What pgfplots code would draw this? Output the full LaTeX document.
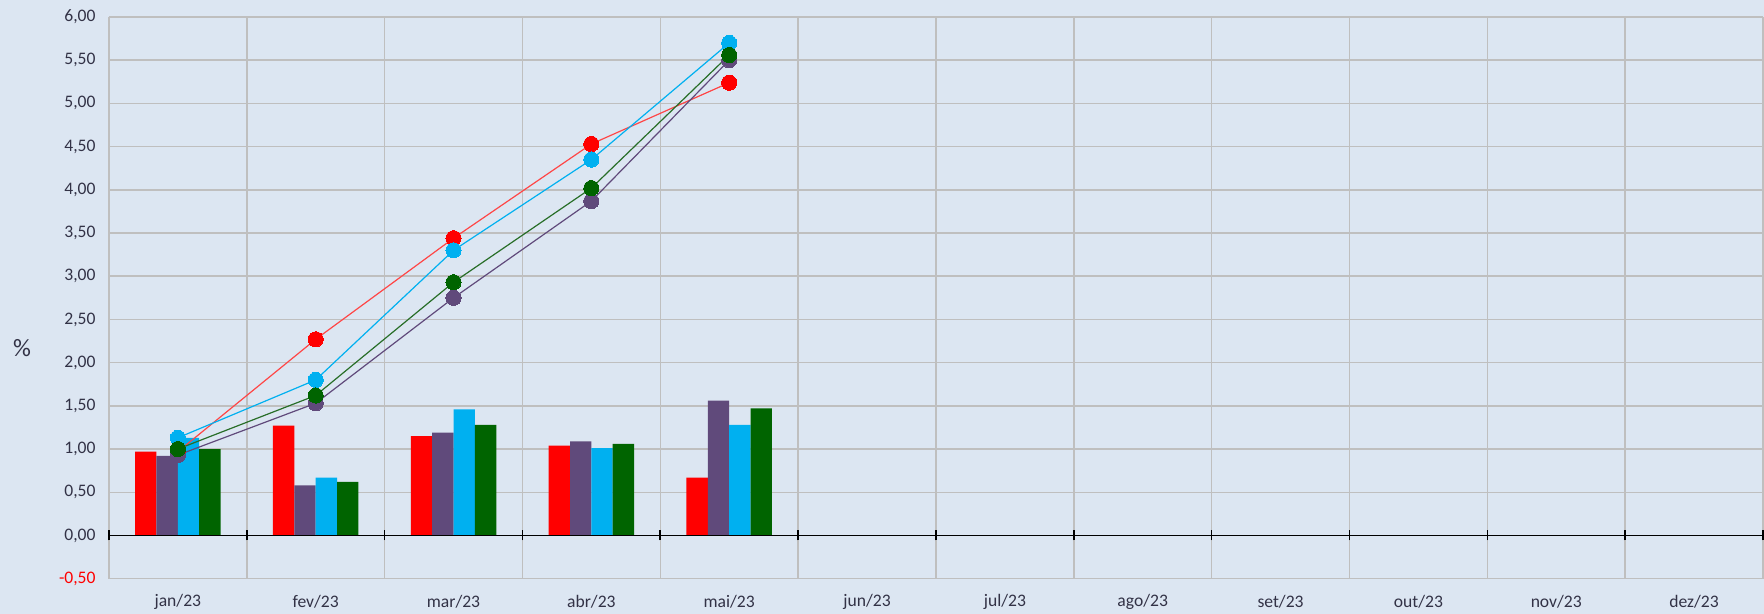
\documentclass[border=0pt]{standalone}
\usepackage{pgfplots}
\pgfplotsset{compat=1.18}
\usepackage{fontspec}
\setmainfont{Carlito}
\definecolor{bgc}{RGB}{220,230,242}
\definecolor{gridc}{RGB}{191,191,191}
\definecolor{cred}{RGB}{255,0,0}
\definecolor{credl}{RGB}{255,70,70}
\definecolor{cpur}{RGB}{96,74,123}
\definecolor{cblue}{RGB}{0,176,240}
\definecolor{cgreen}{RGB}{0,100,0}
\definecolor{cgreenl}{RGB}{40,110,40}
\definecolor{labc}{RGB}{50,50,70}
\begin{document}
\begin{tikzpicture}
\fill[bgc] (-54.5pt,-17.5pt) rectangle (828pt,289.5pt);
\begin{axis}[at={(0,0)}, anchor=south west, scale only axis,
  width=827.5pt, height=281pt,
  xmin=-0.5, xmax=11.5, ymin=-0.5, ymax=6,
  axis line style={draw=none},
  major tick length=0pt, minor tick length=0pt,
  xtick={0,...,11},
  xticklabels={jan/23,fev/23,mar/23,abr/23,mai/23,jun/23,jul/23,ago/23,set/23,out/23,nov/23,dez/23},
  minor xtick={-0.5,0.5,...,11.5},
  xminorgrids=true, xmajorgrids=false, ymajorgrids=true,
  ytick={-0.5,0,0.5,1,1.5,2,2.5,3,3.5,4,4.5,5,5.5,6},
  yticklabels={\textcolor{cred}{-0,50},{0,00},{0,50},{1,00},{1,50},{2,00},{2,50},{3,00},{3,50},{4,00},{4,50},{5,00},{5,50},{6,00}},
  grid style={gridc, line width=0.75pt},
  minor grid style={gridc, line width=0.75pt},
  tick label style={font=\fontsize{8.8}{10}\selectfont, text=labc},
  yticklabel style={anchor=east, inner sep=0pt, xshift=-6.5pt},
  xticklabel style={anchor=center, inner sep=0pt, yshift=-11.5pt},
  ylabel={\%},
  every axis y label/.style={at={(rel axis cs:0,0.41)}, anchor=center, xshift=-43.5pt, font=\fontsize{12.5}{14}\selectfont, text=labc},
  clip=false,
]
% monthly bars
\addplot[ybar, bar width=0.155, bar shift=-0.2325, fill=cred, draw=none]
  coordinates {(0,0.97)(1,1.27)(2,1.15)(3,1.04)(4,0.67)};
\addplot[ybar, bar width=0.155, bar shift=-0.0775, fill=cpur, draw=none]
  coordinates {(0,0.92)(1,0.58)(2,1.19)(3,1.09)(4,1.56)};
\addplot[ybar, bar width=0.155, bar shift=0.0775, fill=cblue, draw=none]
  coordinates {(0,1.13)(1,0.67)(2,1.46)(3,1.01)(4,1.28)};
\addplot[ybar, bar width=0.155, bar shift=0.2325, fill=cgreen, draw=none]
  coordinates {(0,1.00)(1,0.62)(2,1.28)(3,1.06)(4,1.47)};
% zero line with tick marks
\draw[black, line width=0.8pt] (axis cs:-0.5,0) -- (axis cs:11.5,0);
\pgfplotsinvokeforeach{-0.5,0.5,1.5,2.5,3.5,4.5,5.5,6.5,7.5,8.5,9.5,10.5,11.5}{
  \draw[black, line width=0.8pt] (axis cs:#1,0) ++(0pt,-2.5pt) -- ++(0pt,5pt);
}
% cumulative lines
\addplot[credl, line width=0.6pt, mark=*, mark size=3.8pt, mark options={fill=cred, draw=cred, line width=0pt}]
  coordinates {(0,0.97)(1,2.27)(2,3.44)(3,4.53)(4,5.24)};
\addplot[cpur, line width=0.6pt, mark=*, mark size=3.8pt, mark options={fill=cpur, draw=cpur, line width=0pt}]
  coordinates {(0,0.93)(1,1.53)(2,2.75)(3,3.87)(4,5.50)};
\addplot[cblue, line width=0.6pt, mark=*, mark size=3.8pt, mark options={fill=cblue, draw=cblue, line width=0pt}]
  coordinates {(0,1.13)(1,1.80)(2,3.30)(3,4.35)(4,5.70)};
\addplot[cgreenl, line width=0.6pt, mark=*, mark size=3.8pt, mark options={fill=cgreen, draw=cgreen, line width=0pt}]
  coordinates {(0,1.00)(1,1.62)(2,2.93)(3,4.02)(4,5.56)};
\end{axis}
\end{tikzpicture}
\end{document}
